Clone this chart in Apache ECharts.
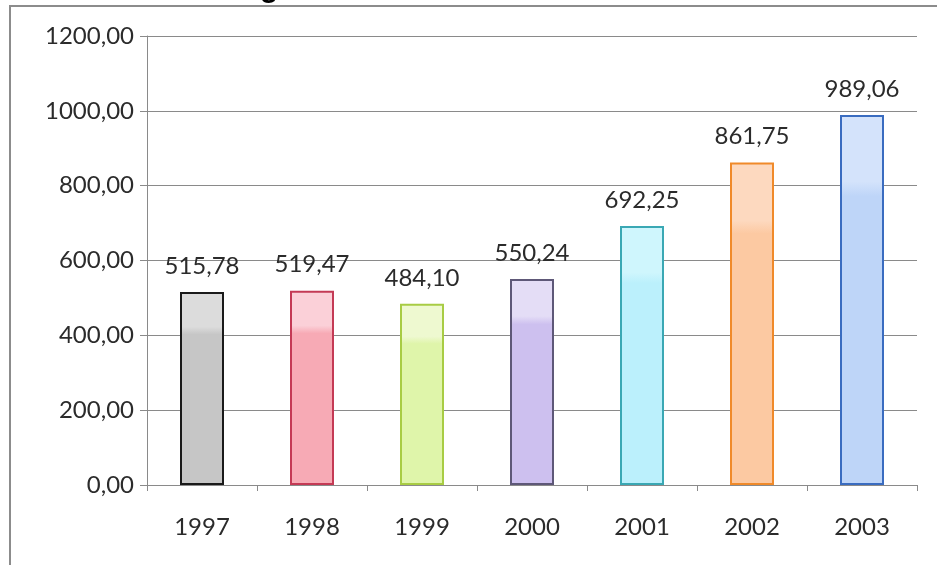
<!DOCTYPE html>
<html>
<head>
<meta charset="utf-8">
<script src="https://cdn.jsdelivr.net/npm/echarts@6/dist/echarts.min.js"></script>
<style>
  html, body { margin: 0; padding: 0; background: #fff; }
  #chart { width: 937px; height: 565px; }
</style>
</head>
<body>
<div id="chart"></div>
<script>
var years = ['1997', '1998', '1999', '2000', '2001', '2002', '2003'];
var values = [515.78, 519.47, 484.10, 550.24, 692.25, 861.75, 989.06];
var yTicks = [0, 200, 400, 600, 800, 1000, 1200];

// top / lower fill and border, one per bar
var topFill = ['#dcdcdc', '#fbd0d8', '#eef9d0', '#e4ddf6', '#cff6fd', '#fdd9bf', '#d4e3fb'];
var lowFill = ['#c6c6c6', '#f7aab5', '#dff5aa', '#cdc0ef', '#bbf0fc', '#fcc9a2', '#bed5f8'];
var edge = ['#1a1a1a', '#c43a55', '#a8cc44', '#5e5878', '#3aa8b4', '#f08a2a', '#3a6cc0'];

function fmt(v) {
    return v.toFixed(2).replace('.', ',');
}

var barData = values.map(function (v, i) {
    return {
        value: v,
        itemStyle: {
            color: new echarts.graphic.LinearGradient(0, 0, 0, 1, [
                { offset: 0, color: topFill[i] },
                { offset: 0.18, color: topFill[i] },
                { offset: 0.22, color: lowFill[i] },
                { offset: 1, color: lowFill[i] }
            ]),
            borderColor: edge[i],
            borderWidth: 2
        }
    };
});

var chart = echarts.init(document.getElementById('chart'));

chart.setOption({
    animation: false,
    backgroundColor: '#fff',
    grid: { left: 147, right: 20, top: 36, bottom: 80, containLabel: false },
    xAxis: {
        type: 'category',
        data: years,
        boundaryGap: true,
        axisLine: { lineStyle: { color: '#8a8a8a', width: 1 } },
        axisTick: { show: true, length: 6, lineStyle: { color: '#8a8a8a' } },
        axisLabel: { color: '#2b2b2b', fontFamily: 'Lato', fontSize: 24, margin: 30 }
    },
    yAxis: {
        type: 'value',
        min: yTicks[0],
        max: yTicks[yTicks.length - 1],
        interval: 200,
        axisLine: { show: true, lineStyle: { color: '#8a8a8a', width: 1 } },
        axisTick: { show: true, length: 7, lineStyle: { color: '#8a8a8a' } },
        splitLine: { lineStyle: { color: '#8a8a8a', width: 1 } },
        axisLabel: {
            color: '#2b2b2b', fontFamily: 'Lato', fontSize: 24, margin: 13,
            formatter: function (v) { return fmt(v); }
        }
    },
    series: [{
        type: 'bar',
        data: barData,
        barWidth: '40%',
        label: {
            show: true,
            position: 'top',
            distance: 14,
            color: '#2b2b2b',
            fontFamily: 'Lato',
            fontSize: 24,
            formatter: function (p) { return fmt(p.value); }
        }
    }],
    graphic: [
        {
            type: 'rect',
            shape: { x: 10, y: 6, width: 960, height: 600 },
            style: { fill: 'none', stroke: '#8c8c8c', lineWidth: 2 },
            z: -1
        },
        {
            type: 'text',
            left: 260,
            top: -26,
            style: { text: 'g', font: 'bold 30px "Liberation Sans"', fill: '#000' },
            z: 10
        }
    ]
});
</script>
</body>
</html>
